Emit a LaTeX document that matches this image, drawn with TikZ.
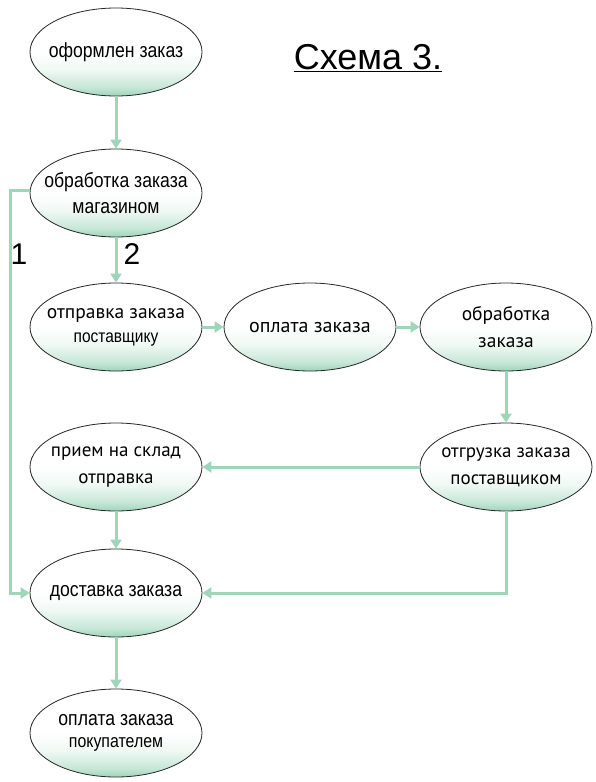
\documentclass[tikz,border=0pt]{standalone}
\usepackage{fontspec}
\setmainfont{Liberation Sans}
\newfontfamily\narrowsans[FakeStretch=0.86]{Liberation Sans}
\newfontfamily\ptsans{PT Sans}
\usetikzlibrary{arrows.meta,shapes.geometric}

\definecolor{flowgreen}{RGB}{158,214,186}
\definecolor{shadegreen}{RGB}{158,213,186}
\pgfdeclareverticalshading{stageshade}{100bp}{color(0bp)=(shadegreen);
    color(25bp)=(shadegreen); color(30bp)=(shadegreen!58!white);
    color(40bp)=(shadegreen!16!white); color(48bp)=(shadegreen!3!white);
    color(52bp)=(white); color(100bp)=(white)}

\begin{document}
\begin{tikzpicture}[x=1pt,y=-1pt,
    stage/.style={ellipse, draw=black!85, line width=0.8pt,
        minimum width=172pt, minimum height=88pt, inner sep=0pt,
        shading=stageshade},
    stagetext/.style={align=center, inner sep=0pt,
        font=\narrowsans\fontsize{20.5}{26}\selectfont},
    flow/.style={draw=flowgreen, line width=3pt,
        -{Triangle[length=9pt,width=11pt]}}]

\useasboundingbox (0,0) rectangle (595,782);

% === Title ===
\node (title) at (368,58) {\fontsize{36}{40}\selectfont\underline{Схема 3.}};

% === Left column ===
\node[stage] (e1) at (116,52) {};
\node[stagetext] (t1) at (e1) {оформлен заказ};

\node[stage] (e2) at (116,193) {};
\node[stagetext] (t2) at (e2) {обработка заказа\\магазином};

\node[stage] (e3) at (116,327) {};
\node[stagetext] (t3) at (e3) {{\ptsans\fontsize{19.5}{22}\selectfont отправка заказа}\\[-2pt]
    {\fontsize{18}{18}\selectfont поставщику}};

% === Supplier row ===
\node[stage] (e4) at (310,327) {};
\node[stagetext, font=\ptsans\fontsize{20}{26}\selectfont] (t4) at (e4) {оплата заказа};

\node[stage] (e5) at (506,327) {};
\node[stagetext, font=\ptsans\fontsize{19.5}{27}\selectfont] (t5) at (e5) {обработка\\заказа};

\node[stage] (e6) at (506,467) {};
\node[stagetext, font=\ptsans\fontsize{19}{27}\selectfont] (t6) at (e6) {отгрузка заказа\\поставщиком};

\node[stage] (e7) at (116,467) {};
\node[stagetext, font=\ptsans\fontsize{19}{27}\selectfont] (t7) at (e7) {прием на склад\\отправка};

% === Delivery and payment ===
\node[stage] (e8) at (116,593) {};
\node[stagetext] (t8) at (e8) {доставка заказа};

\node[stage] (e9) at (116,733) {};
\node[stagetext] (t9) at (e9) {оплата заказа\\[-4pt]
    {\fontsize{18.5}{18}\selectfont покупателем}};

% === Connectors ===
\draw[flow] (e1) -- (e2);
\draw[flow] (e2) -- (e3);
\draw[flow] (e3) -- (e4);
\draw[flow] (e4) -- (e5);
\draw[flow] (e5) -- (e6);
\draw[flow] (e6) -- (e7);
\draw[flow] (e7) -- (e8);
\draw[flow] (e8) -- (e9);
\draw[flow] (e6.south) |- (e8.east);

\coordinate (bend1) at (10,190);
\draw[flow] (e2.west |- bend1) -- (bend1) |- (e8.west);

% === Branch numbers ===
\node[font=\fontsize{30}{30}\selectfont] (lab1) at (19,254) {1};
\node[font=\fontsize{30}{30}\selectfont] (lab2) at (132,254) {2};

\end{tikzpicture}
\end{document}
